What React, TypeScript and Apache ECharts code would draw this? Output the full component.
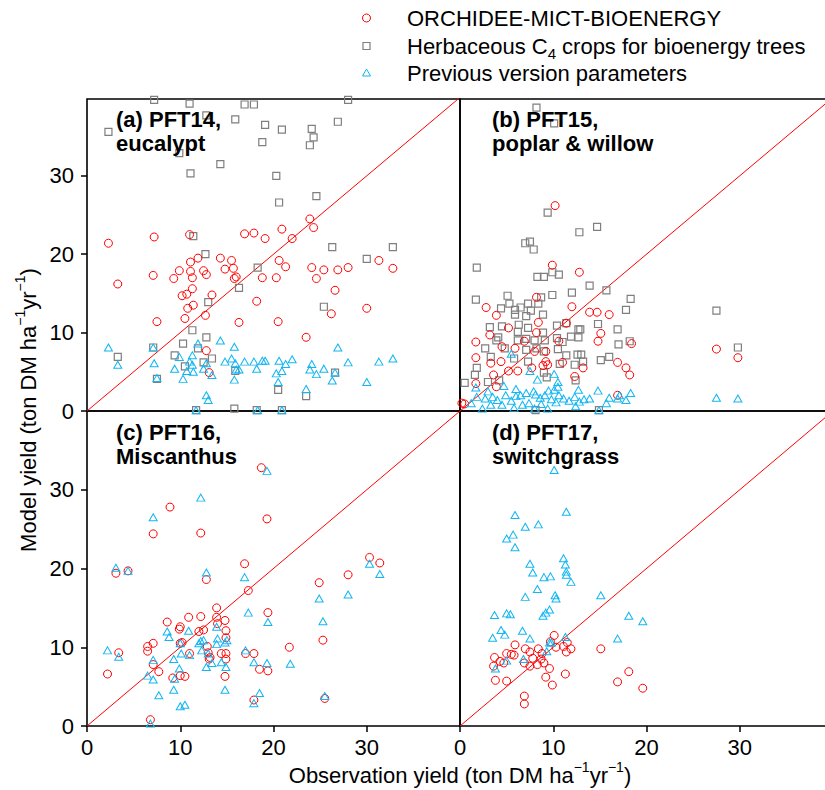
import React, { useEffect, useRef } from "react";
import * as echarts from "echarts";

// ---------- data ----------
const TICK_VALUES = [0, 10, 20, 30];
const ONE_TO_ONE = [[0, 0], [40, 40]];

const LEGEND_NAMES = ["ORCHIDEE-MICT-BIOENERGY", "Herbaceous C4 crops for bioenergy trees", "Previous version parameters"];
const LEGEND_RICH = ["ORCHIDEE-MICT-BIOENERGY", "Herbaceous C{sub|4} crops for bioenergy trees", "Previous version parameters"];
const PANEL_TITLES = ["(a) PFT14,\neucalypt", "(b) PFT15,\npoplar & willow", "(c) PFT16,\nMiscanthus", "(d) PFT17,\nswitchgrass"];
const X_NAME = "Observation yield (ton DM ha{sup|\u22121}yr{sup|\u22121})";
const Y_NAME = "Model yield (ton DM ha{sup|\u22121}yr{sup|\u22121})";

// (a) PFT14 eucalypt
const pft14Model = [
  [2.3, 21.4], [7.2, 22.2], [11.0, 22.5], [16.9, 22.6], [17.9, 22.7], [19.1, 22.0], [20.9, 23.2], [22.0, 22.0], [23.9, 24.5], [24.3, 23.4],
  [3.3, 16.2], [7.1, 17.3], [9.3, 16.9], [9.9, 17.9], [11.1, 19.0], [11.9, 19.5], [11.1, 17.8], [11.3, 17.0], [12.5, 17.9], [12.8, 17.4],
  [14.3, 19.5], [15.5, 19.2], [14.8, 18.1], [15.7, 18.2], [15.8, 16.9], [16.0, 17.1], [18.8, 17.0], [20.3, 17.0], [20.6, 19.2], [21.3, 18.4],
  [24.1, 18.3], [24.6, 16.9], [25.4, 18.0], [26.9, 18.0], [28.0, 18.3], [31.3, 19.2], [32.8, 18.2], [26.6, 15.4], [11.3, 15.6], [10.7, 14.9],
  [10.2, 14.7], [13.4, 14.8], [11.4, 13.5], [10.8, 13.1], [10.5, 11.8], [12.7, 12.2], [7.5, 11.4], [16.3, 11.3], [18.2, 14.0], [20.5, 11.4],
  [26.2, 12.4], [30.0, 13.1], [23.5, 9.4], [12.8, 7.7], [13.1, 4.9],
];
const pft14Herb = [
  [7.2, 39.7], [11.0, 39.2], [16.9, 39.1], [17.9, 39.1], [28.0, 39.7],
  [2.3, 35.6], [12.8, 37.7], [15.9, 37.2], [19.1, 36.5], [20.9, 35.9], [24.1, 36.0], [24.3, 34.9], [23.9, 33.9], [18.8, 34.3], [26.9, 36.9],
  [9.9, 32.9], [14.3, 31.5], [11.1, 30.3], [20.3, 30.0], [24.6, 27.4], [20.6, 26.6], [11.4, 22.3], [26.3, 20.9], [32.8, 20.9], [12.7, 20.0],
  [30.0, 19.4], [18.3, 18.3], [16.3, 15.7], [13.0, 13.9], [25.4, 13.3], [11.3, 10.3], [12.8, 9.4], [10.3, 8.6], [7.1, 8.1], [11.9, 8.0],
  [3.3, 6.9], [9.4, 7.1], [13.4, 6.7], [12.5, 6.2], [15.9, 5.1], [26.6, 4.9], [7.5, 4.1], [20.5, 2.7], [23.5, 1.9], [15.8, 0.3],
  [11.7, 0.1], [18.2, 0.1], [20.9, 0.1], [10.5, 5.7],
];
const pft14Prev = [
  [2.3, 8.1], [7.1, 8.1], [3.3, 5.9], [7.2, 6.1], [7.5, 4.2], [9.4, 5.4], [9.9, 6.9], [10.3, 4.1], [10.7, 5.1], [11.0, 6.3],
  [11.3, 7.1], [11.3, 5.9], [11.4, 5.0], [11.9, 8.6], [12.5, 5.4], [12.8, 6.1], [12.8, 2.0], [13.0, 1.4], [13.4, 4.6], [14.3, 9.0],
  [14.8, 6.3], [15.5, 6.7], [15.8, 8.2], [15.9, 6.1], [15.8, 4.0], [16.0, 5.3], [16.3, 5.3], [16.9, 6.3], [17.9, 6.3], [18.2, 5.4],
  [18.8, 6.4], [19.1, 6.4], [20.3, 4.8], [20.6, 6.4], [20.9, 5.1], [21.3, 6.0], [22.0, 6.6], [20.5, 3.7], [23.5, 2.8], [24.1, 6.0],
  [23.9, 5.3], [24.6, 4.7], [25.4, 5.4], [26.3, 3.9], [26.6, 4.9], [26.9, 8.1], [28.0, 6.2], [30.0, 3.7], [31.3, 6.3], [32.8, 6.7],
  [11.7, 0.1], [18.3, 0.1], [20.9, 0.1],
];

// (b) PFT15 poplar & willow
const pft15Model = [
  [10.2, 26.2], [9.9, 18.6], [12.8, 17.7], [8.2, 14.5], [2.8, 13.2], [3.9, 12.2], [12.0, 13.3], [13.9, 12.6], [14.7, 12.6], [16.0, 12.3],
  [8.4, 11.3], [3.2, 9.7], [5.2, 10.6], [8.2, 10.0], [11.4, 11.2], [15.1, 9.9], [14.8, 8.9], [18.4, 8.6], [1.7, 8.8], [1.7, 6.8],
  [3.3, 6.1], [4.4, 6.3], [5.9, 8.0], [4.5, 8.2], [10.6, 8.9], [9.2, 7.6], [9.2, 6.3], [9.4, 5.9], [8.9, 5.8], [5.2, 5.1],
  [6.2, 5.1], [7.7, 5.5], [13.2, 5.5], [16.9, 6.2], [17.8, 5.5], [18.2, 4.6], [12.3, 4.4], [8.0, 7.6], [6.9, 8.9], [1.7, 3.5],
  [3.6, 4.6], [16.9, 2.0], [0.5, 0.9], [3.9, 3.1], [11.0, 6.2], [27.5, 7.9], [29.8, 6.8], [0.2, 1.0],
];
const pft15Herb = [
  [8.2, 38.7], [10.1, 36.7],
  [9.4, 25.3], [12.8, 22.8], [14.7, 23.5], [7.0, 21.4], [7.5, 21.6], [7.9, 20.6], [1.8, 18.3], [8.3, 17.1],
  [9.0, 17.1], [9.9, 17.7], [10.6, 17.4], [13.9, 16.0], [12.0, 15.1], [15.7, 15.4], [18.3, 14.3], [17.8, 12.9], [1.7, 14.2], [5.1, 14.7],
  [5.3, 13.7], [4.4, 13.1], [5.9, 12.9], [7.3, 13.7], [8.7, 14.5], [9.9, 14.8], [8.4, 13.7], [6.5, 13.2], [7.1, 12.1], [8.9, 12.3],
  [7.6, 12.8], [5.9, 12.3], [3.2, 10.7], [4.5, 10.8], [6.3, 11.0], [6.2, 10.1], [7.3, 10.6], [10.4, 10.9], [11.4, 11.2], [12.7, 10.4],
  [12.9, 10.4], [14.8, 11.1], [16.9, 10.4], [17.0, 8.5], [18.2, 8.9], [4.1, 9.4], [3.9, 9.0], [2.7, 8.0], [4.8, 8.0], [6.2, 9.0],
  [7.1, 9.2], [8.0, 9.0], [8.9, 10.0], [9.1, 9.0], [10.4, 9.3], [11.0, 8.8], [11.9, 9.5], [12.7, 9.4], [7.1, 7.8], [8.2, 8.0],
  [9.0, 7.6], [10.5, 7.9], [11.4, 7.1], [12.6, 7.2], [13.0, 7.2], [3.3, 6.9], [5.8, 6.7], [10.7, 6.0], [12.3, 5.9], [13.2, 6.3],
  [15.1, 6.5], [16.0, 6.9], [7.3, 6.3], [1.8, 5.5], [1.6, 4.6], [0.5, 3.6], [3.0, 3.7], [4.2, 3.9], [9.0, 4.9], [9.3, 4.3],
  [12.4, 3.9], [8.1, 0.1], [14.9, 0.1], [27.5, 12.8], [29.8, 8.1],
];
const pft15Prev = [
  [5.5, 7.3], [7.5, 5.1], [8.3, 4.0], [10.1, 4.7], [10.5, 3.7], [4.7, 3.2], [1.7, 3.0], [6.0, 2.8], [9.5, 2.6], [14.8, 2.6],
  [16.0, 1.7], [17.1, 2.0], [18.3, 2.3], [12.7, 2.7], [13.9, 1.6], [8.1, 2.1], [7.1, 2.3], [6.5, 2.0], [4.9, 2.0], [3.5, 1.8],
  [2.7, 1.6], [1.8, 1.8], [1.2, 1.0], [4.0, 1.4], [5.5, 1.3], [6.0, 1.9], [7.4, 1.0], [8.6, 1.7], [9.1, 2.0], [9.8, 1.5],
  [10.6, 2.0], [11.1, 1.6], [11.7, 1.3], [12.3, 1.8], [13.3, 1.5], [12.8, 1.2], [10.3, 1.1], [8.7, 0.9], [6.7, 0.8], [3.3, 0.8],
  [4.5, 0.8], [12.4, 0.6], [8.0, 0.3], [5.8, 0.4], [9.4, 0.3], [17.8, 1.4], [16.9, 1.6], [15.7, 1.0], [14.9, 0.1], [2.4, 0.3],
  [3.0, 2.5], [10.5, 3.1], [10.1, 2.7], [7.9, 2.5], [27.5, 1.7], [29.8, 1.6],
];

// (c) PFT16 Miscanthus
const pft16Model = [
  [18.7, 32.8], [8.9, 27.8], [7.1, 24.4], [12.2, 24.5], [19.3, 26.3], [3.1, 19.4], [4.4, 19.7], [12.8, 18.6], [16.9, 20.6], [17.3, 17.2],
  [24.9, 18.2], [28.0, 19.2], [30.3, 21.4], [31.4, 20.7], [25.3, 10.9], [21.7, 10.0], [19.4, 14.4], [13.9, 15.0], [12.2, 13.9], [10.9, 13.8],
  [8.6, 13.2], [10.0, 12.6], [9.9, 12.3], [12.0, 12.0], [12.5, 12.2], [13.9, 13.8], [14.8, 13.4], [14.9, 12.1], [14.9, 11.2], [14.0, 13.0],
  [7.1, 10.5], [6.5, 10.1], [6.5, 9.5], [3.4, 9.3], [2.2, 6.6], [7.7, 6.9], [7.1, 7.8], [10.0, 10.5], [10.2, 10.6], [11.0, 9.2],
  [12.9, 10.1], [13.0, 9.3], [13.2, 8.7], [13.1, 8.5], [14.4, 9.2], [14.9, 9.2], [14.9, 8.5], [9.2, 6.1], [10.0, 6.4], [10.5, 6.3],
  [14.8, 6.3], [17.0, 9.2], [17.9, 9.2], [18.5, 7.2], [19.4, 7.0], [17.9, 3.3], [25.5, 3.5], [6.8, 0.8],
];
const pft16Prev = [
  [19.3, 32.4], [12.2, 29.0], [7.1, 26.5], [3.1, 20.1], [4.4, 19.7], [12.8, 19.5], [16.9, 18.9], [30.3, 20.6], [31.4, 19.3], [28.0, 16.7],
  [24.9, 16.2], [25.3, 13.3], [19.4, 13.2], [17.3, 14.4], [13.9, 12.6], [10.9, 12.1], [8.6, 12.0], [8.8, 11.3], [10.0, 10.5], [12.2, 10.8],
  [12.5, 10.9], [12.0, 10.5], [13.9, 10.4], [14.8, 10.6], [15.0, 10.9], [14.0, 11.1], [2.2, 9.6], [3.4, 8.8], [7.1, 8.4], [6.5, 6.4],
  [7.1, 5.9], [7.7, 3.9], [9.3, 8.5], [9.4, 6.0], [9.9, 7.3], [10.1, 9.2], [11.0, 9.0], [12.3, 9.6], [12.8, 7.5], [13.0, 9.2],
  [13.4, 8.0], [14.4, 8.1], [14.9, 7.5], [17.0, 9.6], [17.9, 8.1], [19.3, 8.0], [21.8, 7.9], [9.3, 4.6], [14.8, 4.6], [18.5, 4.2],
  [17.9, 2.9], [25.5, 3.8], [10.0, 2.5], [10.5, 2.7], [6.8, 0.3],
];

// (d) PFT17 switchgrass
const pft17Model = [
  [10.1, 11.5], [5.9, 10.3], [9.7, 10.7], [11.5, 10.6], [11.9, 9.8], [11.1, 10.1], [10.3, 10.0], [8.4, 9.8], [7.0, 9.8], [7.5, 9.4],
  [8.8, 9.2], [7.8, 8.6], [5.0, 9.2], [5.5, 9.1], [5.8, 9.0], [3.7, 8.7], [4.3, 8.2], [4.7, 8.0], [3.6, 7.6], [6.9, 8.0],
  [7.5, 7.6], [8.3, 7.8], [9.0, 8.0], [9.6, 7.3], [11.4, 9.4], [15.1, 9.8], [18.1, 6.9], [11.3, 6.6], [9.2, 6.2], [9.9, 5.2],
  [3.8, 5.8], [5.0, 5.7], [16.9, 5.6], [19.6, 4.8], [6.9, 3.8], [6.9, 2.8], [8.7, 8.5],
];
const pft17Prev = [
  [10.1, 32.5], [11.4, 27.2], [5.9, 26.8], [7.0, 25.3], [8.4, 25.6], [5.7, 24.3], [5.0, 23.8], [5.9, 22.7], [7.5, 20.6], [7.8, 19.5],
  [11.1, 21.3], [11.3, 20.5], [11.4, 19.6], [11.4, 19.2], [11.9, 18.3], [9.0, 18.9], [9.7, 19.0], [8.3, 17.4], [7.0, 16.4], [10.2, 16.6],
  [10.3, 16.2], [15.1, 16.6], [3.7, 14.1], [5.0, 14.3], [5.4, 14.2], [8.9, 14.0], [9.2, 14.4], [9.6, 14.8], [18.1, 14.0], [19.6, 13.3],
  [3.5, 11.2], [4.4, 12.2], [4.8, 11.6], [6.7, 12.1], [7.5, 11.1], [11.3, 11.3], [16.9, 11.1], [9.6, 10.6], [9.8, 10.6], [9.3, 9.5],
  [5.0, 8.3], [6.8, 8.5], [3.8, 7.3],
];

const PANELS = [
  { model: pft14Model, herb: pft14Herb, prev: pft14Prev },
  { model: pft15Model, herb: pft15Herb, prev: pft15Prev },
  { model: pft16Model, herb: [] as number[][], prev: pft16Prev },
  { model: pft17Model, herb: [] as number[][], prev: pft17Prev },
];

// ---------- styles ----------
const FONT = "Liberation Sans, Arial, Helvetica, sans-serif";
const RED = "#ff0000";
const GRAY = "#7f7f7f";
const BLUE = "#12b6f2";

const GRIDS = [
  { left: 87, top: 99, width: 373, height: 312 },
  { left: 460, top: 99, width: 373, height: 312 },
  { left: 87, top: 411, width: 373, height: 315 },
  { left: 460, top: 411, width: 373, height: 315 },
];
const TITLE_POS = [
  [116, 107], [492, 107], [116, 420], [492, 420],
];

export default function App() {
  const ref = useRef<HTMLDivElement>(null);

  useEffect(() => {
    if (!ref.current) return;
    const chart = echarts.init(ref.current, undefined, { renderer: "svg" });

    const grid = GRIDS.map((g) => ({
      ...g,
      show: true,
      borderColor: "#000",
      borderWidth: 1.6,
      backgroundColor: "transparent",
      containLabel: false,
      outerBoundsMode: "none",
    }));

    const tickStyle = { show: true, length: 6, inside: false, lineStyle: { color: "#000", width: 1.5 }, customValues: TICK_VALUES };
    const labelStyle = { show: true, color: "#000", fontSize: 22, fontFamily: FONT, customValues: TICK_VALUES };

    const xAxis = GRIDS.map((_, i) => ({
      type: "value",
      gridIndex: i,
      min: 0,
      max: 40,
      interval: 10,
      splitLine: { show: false },
      axisLine: { show: false },
      axisTick: i >= 2 ? tickStyle : { show: false },
      axisLabel: i >= 2 ? { ...labelStyle, margin: 10 } : { show: false },
    }));
    const yAxis = GRIDS.map((_, i) => ({
      type: "value",
      gridIndex: i,
      min: 0,
      max: i < 2 ? 39.8 : 40,
      interval: 10,
      splitLine: { show: false },
      axisLine: { show: false },
      axisTick: i % 2 === 0 ? tickStyle : { show: false },
      axisLabel: i % 2 === 0 ? { ...labelStyle, margin: 13 } : { show: false },
    }));

    const series: any[] = [];
    PANELS.forEach((p, i) => {
      series.push({
        type: "line",
        xAxisIndex: i,
        yAxisIndex: i,
        data: ONE_TO_ONE,
        symbol: "none",
        silent: true,
        clip: true,
        lineStyle: { color: RED, width: 1 },
        z: 1,
      });
      series.push({
        type: "scatter",
        name: LEGEND_NAMES[0],
        xAxisIndex: i,
        yAxisIndex: i,
        data: p.model,
        symbol: "circle",
        symbolSize: 8,
        clip: true,
        itemStyle: { color: "rgba(0,0,0,0)", borderColor: RED, borderWidth: 1, opacity: 1 },
        z: 3,
      });
      if (p.herb.length) {
        series.push({
          type: "scatter",
          name: LEGEND_NAMES[1],
          xAxisIndex: i,
          yAxisIndex: i,
          data: p.herb,
          symbol: "rect",
          symbolSize: 7,
          clip: true,
          itemStyle: { color: "rgba(0,0,0,0)", borderColor: GRAY, borderWidth: 1.2, opacity: 1 },
          z: 2,
        });
      }
      series.push({
        type: "scatter",
        name: LEGEND_NAMES[2],
        xAxisIndex: i,
        yAxisIndex: i,
        data: p.prev,
        symbol: "triangle",
        symbolSize: [8, 7],
        clip: true,
        itemStyle: { color: "rgba(0,0,0,0)", borderColor: BLUE, borderWidth: 1, opacity: 1 },
        z: 4,
      });
    });

    const richSup = {
      sup: { fontSize: 14, lineHeight: 14, verticalAlign: "top", fontFamily: FONT, fill: "#000" },
    };
    const richSub = {
      sub: { fontSize: 15, lineHeight: 15, verticalAlign: "bottom", fontFamily: FONT, fill: "#000" },
    };

    const legendRows = [18, 46, 73];
    const graphic: any[] = [
      {
        type: "circle",
        shape: { cx: 366.5, cy: legendRows[0], r: 4 },
        style: { fill: "none", stroke: RED, lineWidth: 1 },
        z: 100,
      },
      {
        type: "rect",
        shape: { x: 363, y: legendRows[1] - 3.5, width: 7, height: 7 },
        style: { fill: "none", stroke: GRAY, lineWidth: 1.2 },
        z: 100,
      },
      {
        type: "polygon",
        shape: { points: [[366.5, legendRows[2] - 4], [362.5, legendRows[2] + 3], [370.5, legendRows[2] + 3]] },
        style: { fill: "none", stroke: BLUE, lineWidth: 1 },
        z: 100,
      },
      ...LEGEND_RICH.map((t, k) => ({
        type: "text",
        x: 407,
        y: legendRows[k],
        z: 100,
        style: {
          text: t,
          fontSize: 22,
          lineHeight: 30,
          fontFamily: FONT,
          fill: "#000",
          align: "left",
          verticalAlign: "middle",
          rich: richSub,
        },
      })),
      ...PANEL_TITLES.map((t, k) => ({
        type: "text",
        x: TITLE_POS[k][0],
        y: TITLE_POS[k][1],
        z: 100,
        style: {
          text: t,
          fontSize: 22,
          fontWeight: "bold",
          lineHeight: 24,
          fontFamily: FONT,
          fill: "#000",
          align: "left",
          verticalAlign: "top",
        },
      })),
      {
        type: "text",
        x: 460,
        y: 775,
        z: 100,
        style: {
          text: X_NAME,
          fontSize: 22,
          lineHeight: 30,
          fontFamily: FONT,
          fill: "#000",
          align: "center",
          verticalAlign: "middle",
          rich: richSup,
        },
      },
      {
        type: "text",
        x: 28,
        y: 410,
        rotation: Math.PI / 2,
        z: 100,
        style: {
          text: Y_NAME,
          fontSize: 22,
          lineHeight: 30,
          fontFamily: FONT,
          fill: "#000",
          align: "center",
          verticalAlign: "middle",
          rich: richSup,
        },
      },
    ];

    chart.setOption({
      animation: false,
      backgroundColor: "#fff",
      grid,
      xAxis,
      yAxis,
      series,
      graphic,
    });

    return () => chart.dispose();
  }, []);

  return (
    <div
      ref={ref}
      style={{ position: "absolute", left: 0, top: 0, width: 825, height: 790, overflow: "hidden" }}
    />
  );
}
